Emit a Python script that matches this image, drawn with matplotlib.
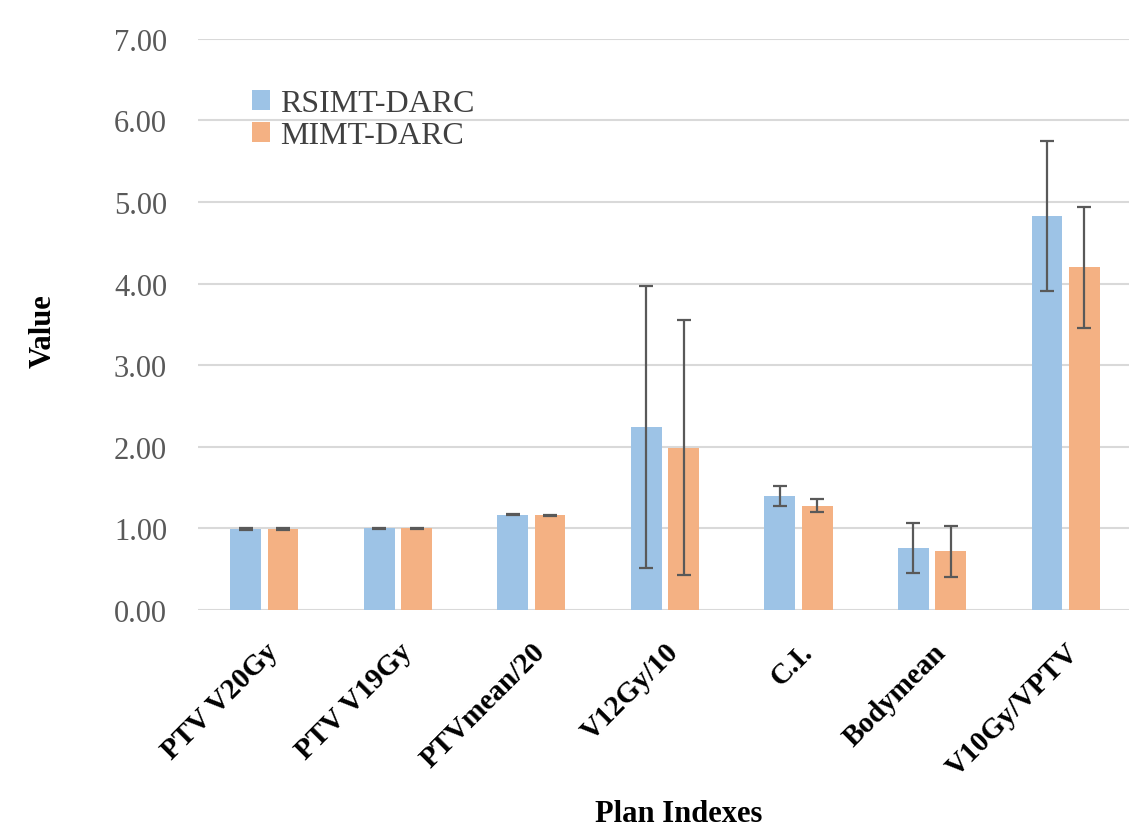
import numpy as np
import matplotlib.pyplot as plt

categories = ['PTV V20Gy', 'PTV V19Gy', 'PTVmean/20', 'V12Gy/10', 'C.I.', 'Bodymean', 'V10Gy/VPTV']
rsimt = [0.99, 1.00, 1.17, 2.24, 1.40, 0.76, 4.83]
rsimt_err = [0.01, 0.01, 0.01, 1.73, 0.12, 0.31, 0.92]
mimt = [0.99, 1.00, 1.16, 1.99, 1.28, 0.72, 4.20]
mimt_err = [0.01, 0.01, 0.01, 1.56, 0.08, 0.31, 0.74]
yticks = [0, 1, 2, 3, 4, 5, 6, 7]

plt.rcParams['font.family'] = ['Liberation Serif', 'DejaVu Serif']

fig = plt.figure(figsize=(11.29, 8.28), dpi=100)
ax = fig.add_axes([0.175, 0.262, 0.828, 0.690])

x = np.arange(len(categories))
w = 0.23
off = 0.14
ekw = dict(ecolor='#595959', elinewidth=1.6, capsize=5, capthick=1.6)
ax.bar(x - off, rsimt, w, yerr=rsimt_err, color='#9DC3E6', label='RSIMT-DARC', error_kw=ekw, zorder=2)
ax.bar(x + off, mimt, w, yerr=mimt_err, color='#F4B183', label='MIMT-DARC', error_kw=ekw, zorder=2)

ax.set_xlim(-0.5, len(categories) - 0.5)
ax.set_ylim(0, 7)
ax.set_yticks(yticks)
ax.set_yticklabels(['%.2f' % v for v in yticks], fontsize=22, color='#595959')
ax.set_xticks(x)
ax.set_xticklabels(categories, rotation=45, ha='right', rotation_mode='anchor',
                   fontsize=21, fontweight='bold')
ax.tick_params(axis='both', length=0)
ax.tick_params(axis='y', pad=22)
ax.tick_params(axis='x', pad=20)
ax.grid(axis='y', color='#D9D9D9', linewidth=1.5, zorder=0)
ax.set_axisbelow(True)
for s in ax.spines.values():
    s.set_visible(False)

ax.set_ylabel('Value', fontsize=22, fontweight='bold')
ax.yaxis.set_label_coords(-0.15, 0.49)
ax.set_xlabel('Plan Indexes', fontsize=22, fontweight='bold')
ax.xaxis.set_label_coords(0.515, -0.33)

leg = ax.legend(loc='upper left', bbox_to_anchor=(0.028, 0.962), frameon=False,
                fontsize=23, handlelength=0.55, handleheight=0.55, handletextpad=0.3,
                labelspacing=0.1)
for t in leg.get_texts():
    t.set_color('#404040')

fig.savefig('out.png', dpi=100)
